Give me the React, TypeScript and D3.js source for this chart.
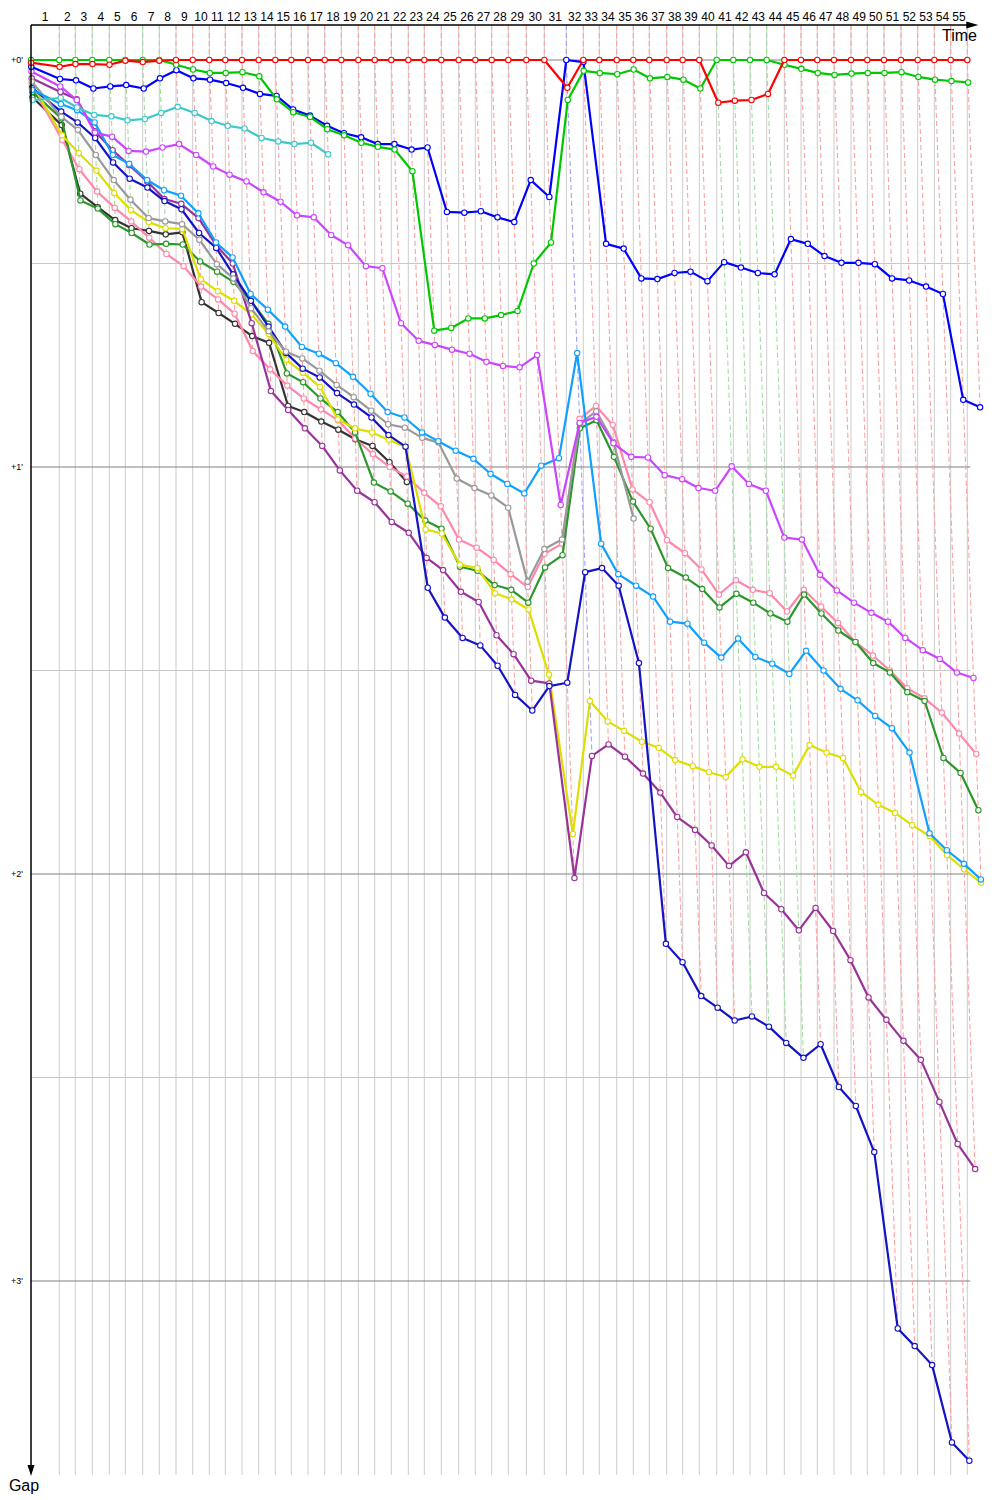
import React from "react";
import * as d3 from "d3";

// Leader lap durations (seconds), lap 1..55
const leaderLapTimes = [
  113.2, 64.0, 68.0, 68.0, 64.0, 69.6, 66.4, 66.8, 66.8, 66.4,
  64.0, 66.8, 66.8, 66.4, 64.0, 66.8, 66.8, 66.4, 68.0, 65.6,
  66.4, 68.0, 64.0, 68.0, 69.6, 66.4, 65.6, 66.4, 72.0, 72.0,
  88.0, 68.0, 64.0, 69.6, 66.4, 64.0, 69.6, 64.0, 66.4, 69.6,
  66.4, 66.8, 66.8, 70.4, 66.8, 65.2, 66.8, 68.0, 65.2, 66.8,
  68.0, 66.8, 66.4, 65.6, 66.4,
];

const yTicks = [0, 60, 120, 180];
const yTickLabels = ["+0'", "+1'", "+2'", "+3'"];
const yMinorTicks = [30, 90, 150];

// Gaps to leader (seconds), index 0 = start, index n = lap n
const redGaps = [
  0.4, 1.0, 0.6, 0.6, 0.7, 0.1, 0.3, 0.1,
  0, 0, 0, 0, 0, 0, 0, 0, 0, 0, 0, 0, 0, 0, 0, 0, 0, 0, 0, 0, 0, 0, 0,
  4.1,
  0, 0, 0, 0, 0, 0, 0, 0,
  6.3, 6.0, 5.9, 5.0,
  0, 0, 0, 0, 0, 0, 0, 0, 0, 0, 0, 0,
];
const greenGaps = [
  0, 0, 0, 0, 0, 0, 0, 0,
  0.7, 1.4, 1.9, 1.9, 1.8, 2.4, 5.8, 7.7, 8.4, 10.2, 11.1, 12.2, 12.8, 13.2, 16.4,
  39.9, 39.5, 38.1, 38.1, 37.6, 37.0, 30.0, 26.9, 5.9, 1.6, 1.9, 2.1, 1.4, 2.7, 2.5, 2.9, 4.2,
  0, 0, 0, 0,
  0.7, 1.3, 1.9, 2.2, 2.0, 1.9, 1.9, 1.8, 2.5, 2.9, 3.1, 3.3,
];
const blueGaps = [
  1.0,
  2.8, 3.0, 4.2, 3.9, 3.7, 4.2, 2.7, 1.5, 2.7, 2.9, 3.4, 4.1, 5.0, 5.3, 7.3, 8.2, 9.7,
  10.8, 11.4, 12.4, 12.4, 13.2, 12.9, 22.4, 22.5, 22.3, 23.2, 23.9, 17.7, 20.2,
  0, 0.3,
  27.1, 27.8, 32.2, 32.3, 31.4, 31.2, 32.6, 29.8, 30.6, 31.4, 31.6, 26.4, 27.1, 28.9,
  29.9, 29.9, 30.1, 32.2, 32.5, 33.4, 34.5, 50.1, 51.2,
];
const cyanGaps = [
  5.9, 5.6, 7.0, 8.1, 8.3, 8.9, 8.7, 7.8, 6.9, 7.8, 9.0, 9.7, 10.1, 11.5, 12.0, 12.4, 12.2, 13.9,
];
const magentaGaps = [
  1.7,
  3.9, 5.9, 10.7, 11.3, 13.4, 13.5, 12.9, 12.4, 14.0, 15.7,
  16.9, 17.9, 19.5, 20.9, 22.9, 23.2, 25.8, 27.3, 30.4, 30.7,
  38.8, 41.4, 42.0, 42.7, 43.3, 44.5, 45.1, 45.3, 43.5, 65.6,
  53.5, 52.6, 56.5, 58.5, 58.6, 61.2, 61.8, 63.1, 63.5, 59.9,
  62.5, 63.5, 70.4, 70.7, 75.9, 78.2, 80.0, 81.5, 82.8, 85.2,
  87.0, 88.3, 90.3, 91.1,
];
const lightBlueGaps = [
  4.4,
  6.5, 7.4, 9.2, 14.0, 15.3, 17.7, 19.2, 20.0, 22.6, 26.9,
  29.1, 34.5, 36.8, 39.3, 42.3, 43.3, 44.7, 46.7, 49.2, 51.9,
  52.7, 54.9, 56.2, 57.6, 58.8, 61.0, 62.5, 63.9, 59.8, 58.7,
  43.2, 71.3, 75.8, 77.5, 79.1, 82.8, 83.1, 85.9, 88.1, 85.3,
  88.0, 89.0, 90.5, 87.1, 90.0, 92.7, 94.4, 96.7, 98.5, 102.1,
  114.0, 116.5, 118.5, 120.8,
];
const grayGaps = [
  3.2,
  8.4, 10.3, 14.0, 17.7, 20.6, 23.3, 23.8, 24.2, 26.5, 30.1,
  32.2, 36.6, 40.0, 43.0, 44.0, 45.8, 47.9, 49.7, 51.7, 53.7,
  54.2, 55.7, 56.4, 61.7, 63.1, 64.2, 66.0, 76.9, 72.1, 70.7,
  53.6, 51.8, 56.3, 67.6,
];
const navyGaps = [
  4.1,
  7.6, 9.2, 11.5, 15.1, 17.5, 18.8, 20.8, 22.0, 25.5, 27.7,
  31.6, 35.5, 39.3, 43.2, 45.5, 46.8, 49.1, 50.8, 52.7, 55.3,
  57.0, 77.8, 82.2, 85.2, 86.3, 89.3, 93.6, 95.9, 92.3, 91.8,
  75.5, 74.9, 77.5, 88.9, 130.3, 133.0, 138.0, 139.7, 141.6, 141.0,
  142.5, 144.9, 147.1, 145.1, 151.4, 154.2, 161.0, 187.0, 189.6, 192.4,
  203.8, 206.5,
];
const purpleGaps = [
  2.7,
  4.7, 5.8, 10.5, 13.3, 15.5, 17.9, 20.5, 21.2, 23.3, 27.3,
  30.0, 38.8, 48.8, 51.6, 54.3, 56.9, 60.5, 63.5, 65.2, 68.1,
  69.7, 73.4, 75.2, 78.4, 79.9, 84.8, 87.6, 91.5, 91.9, 120.6,
  102.6, 100.9, 102.7, 105.2, 108.0, 111.6, 113.5, 115.8, 118.8, 116.8,
  122.8, 125.2, 128.3, 125.0, 128.4, 132.7, 138.2, 141.5, 144.6, 147.4,
  153.6, 159.8, 163.5,
];
const yellowGaps = [
  3.5,
  11.1, 13.7, 16.3, 19.6, 22.1, 23.9, 24.8, 24.9, 32.3, 34.1,
  35.5, 37.5, 40.4, 44.2, 46.1, 48.2, 53.0, 54.3, 54.9, 56.0,
  57.0, 69.2, 69.8, 74.4, 74.9, 78.6, 79.5, 81.0, 90.6, 114.1,
  94.5, 97.5, 98.9, 100.5, 101.4, 103.2, 104.1, 105.0, 105.7, 103.1,
  104.2, 104.2, 105.5, 101.0, 102.1, 102.9, 107.9, 109.8, 111.0, 112.8,
  114.4, 117.2, 119.3, 121.3,
];
const darkGreenGaps = [
  4.7,
  8.6, 20.7, 21.9, 24.2, 25.5, 27.2, 27.1, 27.2, 29.7, 31.2,
  32.7, 35.5, 38.9, 46.2, 47.5, 49.9, 51.9, 54.9, 62.3, 63.6,
  65.4, 67.9, 69.1, 74.7, 75.3, 77.4, 78.1, 80.0, 74.8, 73.0,
  54.3, 53.1, 58.5, 65.1, 69.1, 74.9, 76.3, 78.0, 80.7, 78.7,
  80.0, 81.6, 82.8, 78.8, 81.6, 84.1, 85.8, 88.9, 90.3, 93.2,
  94.5, 102.9, 105.1, 110.6,
];
const pinkGaps = [
  3.8,
  11.8, 16.1, 19.4, 21.8, 23.8, 26.2, 28.6, 30.4, 33.4, 35.3,
  37.4, 42.9, 45.6, 48.0, 49.9, 51.5, 53.1, 55.8, 58.1, 60.0,
  61.4, 63.8, 65.8, 70.7, 71.9, 73.7, 75.8, 77.7, 72.8, 71.3,
  52.9, 51.0, 53.8, 63.3, 65.2, 70.8, 72.7, 75.1, 78.8, 76.7,
  78.1, 78.6, 81.3, 78.1, 80.6, 83.0, 85.8, 87.8, 90.0, 92.6,
  94.1, 96.2, 99.3, 102.3,
];
const blackGaps = [
  5.5,
  9.6, 19.7, 21.7, 23.6, 24.8, 25.2, 25.7, 25.4, 35.7, 37.3,
  38.9, 40.7, 41.7, 51.0, 51.9, 53.3, 54.5, 55.9, 56.9, 59.3, 62.2,
];

type Series = { name: string; color: string; dash?: string; gaps: number[] };

const series: Series[] = [
  { name: "black", color: "#333333", gaps: blackGaps },
  { name: "pink", color: "#ff88aa", gaps: pinkGaps },
  { name: "darkgreen", color: "#2a972a", gaps: darkGreenGaps },
  { name: "yellow", color: "#dede00", gaps: yellowGaps },
  { name: "purple", color: "#993399", gaps: purpleGaps },
  { name: "navy", color: "#1414c4", gaps: navyGaps },
  { name: "gray", color: "#999999", gaps: grayGaps },
  { name: "lightblue", color: "#10a0ff", gaps: lightBlueGaps },
  { name: "magenta", color: "#cc44ff", gaps: magentaGaps },
  { name: "cyan", color: "#3cc8c8", gaps: cyanGaps },
  { name: "blue", color: "#0000ff", dash: "#a0a0ff", gaps: blueGaps },
  { name: "green", color: "#00c800", dash: "#9ee09e", gaps: greenGaps },
  { name: "red", color: "#ff0000", dash: "#ffa0a0", gaps: redGaps },
];

export default function App() {
  const width = 1000;
  const height = 1500;
  const axisX = 31;
  const axisTop = 25;
  const axisBottom = 1475;

  const cum: number[] = [0];
  leaderLapTimes.forEach((t) => cum.push(cum[cum.length - 1] + t));
  const total = cum[cum.length - 1];

  const x = d3.scaleLinear().domain([0, total]).range([axisX, axisX + total * 0.25]);
  const y = d3.scaleLinear().domain([0, 60]).range([60, 467]);
  const gridRight = x(total) + 3;
  const xArrowTip = x(total) + 11;

  const px = (lap: number, gap: number) => x(cum[lap] + gap);

  const line = d3
    .line<[number, number]>()
    .x((d) => d[0])
    .y((d) => d[1]);

  // lap lines
  const lapLines: { d: string; color: string }[] = [];
  for (let n = 1; n < cum.length; n++) {
    const pts = series
      .filter((s) => s.gaps.length > n)
      .map((s) => ({ s, g: s.gaps[n] }))
      .sort((a, b) => a.g - b.g);
    if (!pts.length) continue;
    const leader = pts[0].s;
    const coords: [number, number][] = [[x(cum[n]), axisTop]];
    pts.forEach((p) => coords.push([px(n, p.g), y(p.g)]));
    lapLines.push({ d: line(coords) || "", color: leader.dash || "#ffa0a0" });
  }

  const font = "'Liberation Sans', Arial, sans-serif";

  return (
    <div style={{ position: "absolute", left: 0, top: 0 }}>
      <svg width={width} height={height} style={{ display: "block", background: "#fff" }}>
        {/* vertical lap grid */}
        {cum.slice(1).map((t, i) => (
          <line key={"v" + i} x1={x(t)} x2={x(t)} y1={axisTop} y2={axisBottom} stroke="#cccccc" strokeWidth={1} />
        ))}
        {/* horizontal grid */}
        {yMinorTicks.map((t) => (
          <line key={"hm" + t} x1={axisX} x2={gridRight} y1={y(t)} y2={y(t)} stroke="#c8c8c8" strokeWidth={1} />
        ))}
        {yTicks.map((t) => (
          <line key={"hM" + t} x1={axisX} x2={gridRight} y1={y(t)} y2={y(t)} stroke="#808080" strokeWidth={1} />
        ))}
        {/* lap lines */}
        {lapLines.map((l, i) => (
          <path key={"l" + i} d={l.d} fill="none" stroke={l.color} strokeWidth={1.1} strokeDasharray="5,3" />
        ))}
        {/* series */}
        {series.map((s) => {
          const coords: [number, number][] = s.gaps.map((g, i) => [px(i, g), y(g)]);
          return (
            <g key={s.name}>
              <path d={line(coords) || ""} fill="none" stroke={s.color} strokeWidth={2.2} strokeLinejoin="round" />
              {coords.map((c, i) => (
                <circle key={i} cx={c[0]} cy={c[1]} r={2.7} fill="#fff" stroke={s.color} strokeWidth={1.1} />
              ))}
            </g>
          );
        })}
        {/* axes */}
        <line x1={axisX} x2={xArrowTip - 8} y1={axisTop} y2={axisTop} stroke="#000" strokeWidth={1.5} />
        <path d={`M${xArrowTip},${axisTop} L${xArrowTip - 12},${axisTop - 3.5} L${xArrowTip - 12},${axisTop + 3.5} Z`} fill="#000" />
        <line x1={axisX} x2={axisX} y1={axisTop} y2={axisBottom - 6} stroke="#000" strokeWidth={1.5} />
        <path d={`M${axisX},${axisBottom + 1} L${axisX - 3.5},${axisBottom - 10} L${axisX + 3.5},${axisBottom - 10} Z`} fill="#000" />
        {/* x labels */}
        {leaderLapTimes.map((_, i) => (
          <text key={"xl" + i} x={(x(cum[i]) + x(cum[i + 1])) / 2} y={21} textAnchor="middle" fontFamily={font} fontSize={12} fill="#000">
            {i + 1}
          </text>
        ))}
        {/* y labels */}
        {yTicks.map((t, i) => (
          <text key={"yl" + t} x={23} y={y(t) + 3} textAnchor="end" fontFamily={font} fontSize={9} fill="#000">
            {yTickLabels[i]}
          </text>
        ))}
        <text x={977} y={41} textAnchor="end" fontFamily={font} fontSize={16} fill="#000">Time</text>
        <text x={24} y={1491} textAnchor="middle" fontFamily={font} fontSize={16} fill="#000">Gap</text>
      </svg>
    </div>
  );
}
